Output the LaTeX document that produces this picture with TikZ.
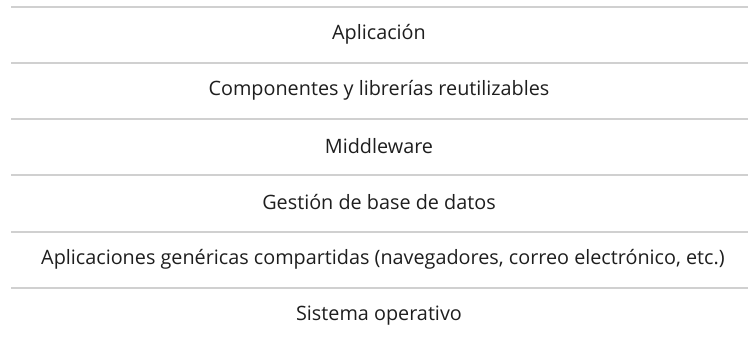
\documentclass[tikz,border=0pt]{standalone}
\usepackage{fontspec}
\setmainfont{Open Sans}
\definecolor{rule}{HTML}{D0D0D0}
\definecolor{txt}{HTML}{1E1E1E}
\begin{document}
\begin{tikzpicture}[x=1pt,y=1pt,
  layer/.style={text=txt,font=\fontsize{19.8}{22}\selectfont,anchor=center},
  sep/.style={draw=rule,line width=2.4pt}]
\useasboundingbox (0,0) rectangle (748,345);
\coordinate (l1a) at (11,338); \coordinate (l1b) at (748,338);
\coordinate (l2a) at (11,282); \coordinate (l2b) at (748,282);
\coordinate (l3a) at (11,226); \coordinate (l3b) at (748,226);
\coordinate (l4a) at (11,170); \coordinate (l4b) at (748,170);
\coordinate (l5a) at (11,113); \coordinate (l5b) at (748,113);
\coordinate (l6a) at (11,57); \coordinate (l6b) at (748,57);
\foreach \i in {1,...,6} {\draw[sep] (l\i a) -- (l\i b);}
\node[layer] (n1) at (379,311) {Aplicación};
\node[layer] (n2) at (379,255) {Componentes y librerías reutilizables};
\node[layer] (n3) at (379,199) {Middleware};
\node[layer] (n4) at (379,143) {Gestión de base de datos};
\node[layer] (n5) at (383,86) {Aplicaciones genéricas compartidas (navegadores, correo electrónico, etc.)};
\node[layer] (n6) at (379,29) {Sistema operativo};
\end{tikzpicture}
\end{document}
